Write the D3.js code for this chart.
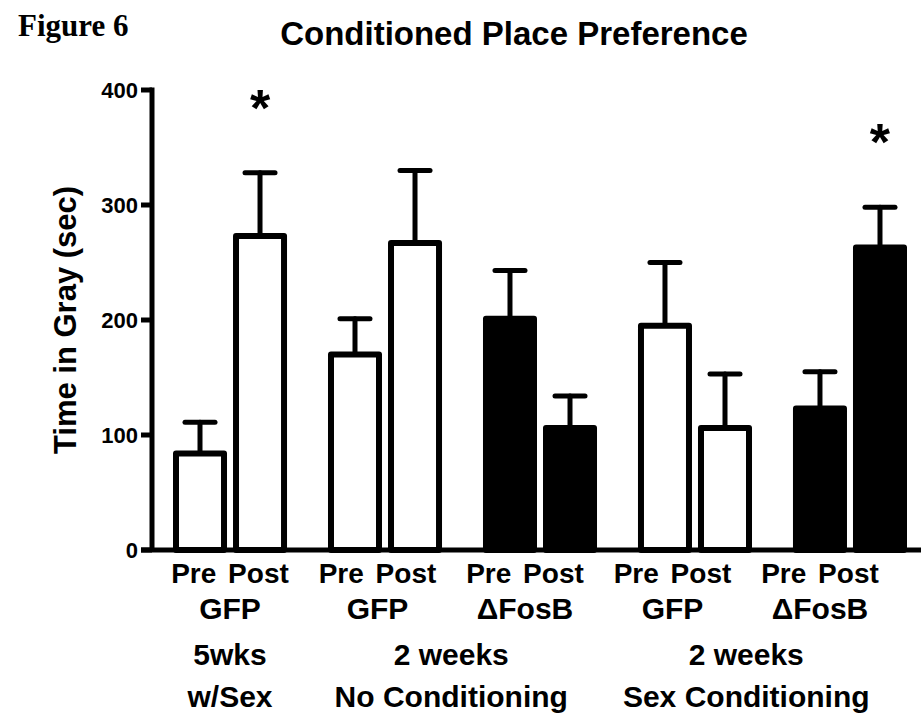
<!DOCTYPE html>
<html>
<head>
<meta charset="utf-8">
<script src="https://cdn.jsdelivr.net/npm/d3@7/dist/d3.min.js"></script>
<style>
  html, body { margin: 0; padding: 0; background: #fff; }
  svg { display: block; }
  text { font-family: "Liberation Sans", Arial, sans-serif; font-weight: bold; fill: #000; }
</style>
</head>
<body>
<svg id="chart" width="921" height="713"></svg>
<script>
// Conditioned place preference: time spent in the gray compartment (sec)
const groups = ["g1", "g2", "g3", "g4", "g5"];
const phases = ["Pre", "Post"];
const virus = ["GFP", "GFP", "\u0394FosB", "GFP", "\u0394FosB"];
const condLine1 = ["5wks", "2 weeks", "2 weeks"];
const condLine2 = ["w/Sex", "No Conditioning", "Sex Conditioning"];
const condSpan = [[0, 0], [1, 2], [3, 4]];           // groups covered by each condition label
const filled = [false, false, true, false, true];     // ΔFosB groups drawn solid
const meanPre  = [84, 170, 201, 195, 123];
const meanPost = [273, 267, 106, 106, 263];
const semPre   = [27, 31, 42, 55, 32];
const semPost  = [55, 63, 28, 47, 35];
const significant = [[0, "Post"], [4, "Post"]];       // marked with *
const yTicks = [0, 100, 200, 300, 400];

const bars = [];
groups.forEach((g, i) => {
  bars.push({ g, i, phase: "Pre",  mean: meanPre[i],  sem: semPre[i],  fill: filled[i] });
  bars.push({ g, i, phase: "Post", mean: meanPost[i], sem: semPost[i], fill: filled[i] });
});

const svg = d3.select("#chart");

const y = d3.scaleLinear().domain([0, 400]).range([550, 90]);
const xGroup = d3.scaleBand().domain(groups).range([176, 904]).paddingInner(0.303).paddingOuter(0);
const xPhase = d3.scaleBand().domain(phases).range([0, xGroup.bandwidth()]).paddingInner(0.2).paddingOuter(0);
const xLabel = d3.scalePoint().domain(groups).range([230, 820]);

const axisX = 152;

// figure tag and title
svg.append("text")
  .attr("x", 18).attr("y", 36)
  .style("font-family", "'Liberation Serif', 'Times New Roman', serif")
  .style("font-size", "31px")
  .text("Figure 6");

svg.append("text")
  .attr("x", 514).attr("y", 45)
  .attr("text-anchor", "middle")
  .style("font-size", "33px")
  .text("Conditioned Place Preference");

// bars
const barG = svg.append("g");
barG.selectAll("rect").data(bars).join("rect")
  .attr("x", d => xGroup(d.g) + xPhase(d.phase))
  .attr("y", d => y(d.mean))
  .attr("width", xPhase.bandwidth())
  .attr("height", d => y(0) - y(d.mean))
  .attr("fill", d => d.fill ? "#000" : "#fff")
  .attr("stroke", "#000")
  .attr("stroke-width", 6)
  .attr("stroke-linejoin", "round");

// upper error bars
const capHalf = 15;
const errG = svg.append("g").attr("stroke", "#000").attr("stroke-width", 5).attr("stroke-linecap", "round");
bars.forEach(d => {
  const cx = xGroup(d.g) + xPhase(d.phase) + xPhase.bandwidth() / 2;
  errG.append("line")
    .attr("x1", cx).attr("x2", cx)
    .attr("y1", y(d.mean) - 3).attr("y2", y(d.mean + d.sem));
  errG.append("line")
    .attr("x1", cx - capHalf).attr("x2", cx + capHalf)
    .attr("y1", y(d.mean + d.sem)).attr("y2", y(d.mean + d.sem));
});

// significance markers
significant.forEach(([gi, phase]) => {
  const cx = xGroup(groups[gi]) + xPhase(phase) + xPhase.bandwidth() / 2;
  const top = y((phase === "Pre" ? meanPre[gi] + semPre[gi] : meanPost[gi] + semPost[gi]));
  svg.append("text")
    .attr("x", cx).attr("y", top - 47)
    .attr("text-anchor", "middle")
    .style("font-size", "52px")
    .text("*");
});

// y axis
const axG = svg.append("g").attr("stroke", "#000");
axG.append("line")
  .attr("x1", axisX).attr("x2", axisX)
  .attr("y1", y(400) - 2.5).attr("y2", y(0))
  .attr("stroke-width", 5);
axG.append("line")
  .attr("x1", axisX - 11).attr("x2", 921)
  .attr("y1", y(0)).attr("y2", y(0))
  .attr("stroke-width", 5);
axG.selectAll("line.tick").data(yTicks).join("line")
  .attr("class", "tick")
  .attr("x1", axisX - 11).attr("x2", axisX)
  .attr("y1", d => y(d)).attr("y2", d => y(d))
  .attr("stroke-width", 5);

svg.selectAll("text.ytick").data(yTicks).join("text")
  .attr("class", "ytick")
  .attr("x", 138).attr("y", d => y(d))
  .attr("dy", "0.35em")
  .attr("text-anchor", "end")
  .style("font-size", "22px")
  .text(d => d);

svg.append("text")
  .attr("transform", "translate(76,320) rotate(-90)")
  .attr("text-anchor", "middle")
  .style("font-size", "31px")
  .text("Time in Gray (sec)");

// category labels
svg.selectAll("text.phase").data(groups).join("text")
  .attr("class", "phase")
  .attr("x", d => xLabel(d)).attr("y", 583)
  .attr("text-anchor", "middle")
  .style("font-size", "28px")
  .style("word-spacing", "4px")
  .text(phases.join(" "));

svg.selectAll("text.virus").data(groups).join("text")
  .attr("class", "virus")
  .attr("x", d => xLabel(d)).attr("y", 619)
  .attr("text-anchor", "middle")
  .style("font-size", "30px")
  .text((d, i) => virus[i]);

const condX = span => (xLabel(groups[span[0]]) + xLabel(groups[span[1]])) / 2;
svg.selectAll("text.cond1").data(condSpan).join("text")
  .attr("class", "cond1")
  .attr("x", condX).attr("y", 665)
  .attr("text-anchor", "middle")
  .style("font-size", "30px")
  .text((d, i) => condLine1[i]);
svg.selectAll("text.cond2").data(condSpan).join("text")
  .attr("class", "cond2")
  .attr("x", condX).attr("y", 707)
  .attr("text-anchor", "middle")
  .style("font-size", "30px")
  .text((d, i) => condLine2[i]);
</script>
</body>
</html>
